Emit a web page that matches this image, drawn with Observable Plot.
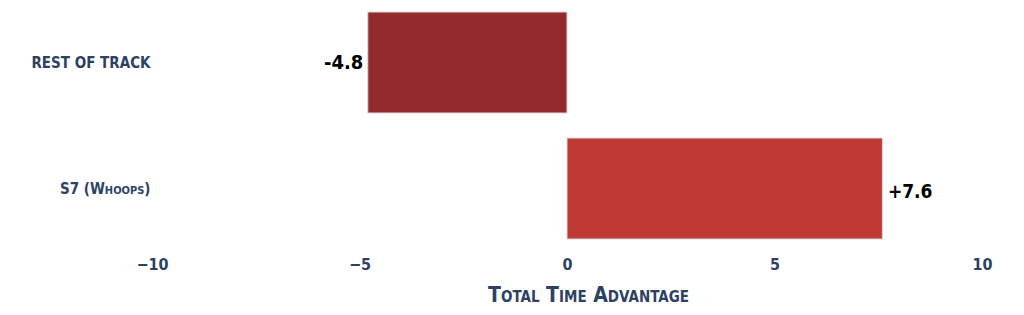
<!DOCTYPE html>
<html>
<head>
<meta charset="utf-8">
<script src="https://cdn.jsdelivr.net/npm/d3@7"></script>
<script src="https://cdn.jsdelivr.net/npm/@observablehq/plot@0.6"></script>
<style>
  html, body { margin: 0; padding: 0; background: #fff; }
  svg { display: block; }
  svg text { font-stretch: condensed; }
</style>
</head>
<body>
<div id="chart"></div>
<script>
const categories = ["REST OF TRACK", "S7 (Whoops)"];
const values = [-4.8, 7.6];
const colors = ["#932a2b", "#bf3935"];
const xTicks = [-10, -5, 0, 5, 10];
const axisLabel = "Total Time Advantage";

const data = categories.map((c, i) => ({category: c, value: values[i], color: colors[i]}));
const font = "'DejaVu Sans Condensed', 'DejaVu Sans', sans-serif";
const navy = "#2d4262";
const fmt = d => (d.value > 0 ? "+" : "-") + Math.abs(d.value).toFixed(1);

const chart = Plot.plot({
  width: 1024,
  height: 315,
  marginLeft: 152,
  marginRight: 42,
  marginTop: 12,
  marginBottom: 76,
  style: {fontFamily: font, background: "#fff"},
  x: {domain: [-10, 10]},
  y: {domain: categories, paddingInner: 0.2, paddingOuter: 0},
  marks: [
    Plot.barX(data, {x: "value", y: "category", fill: "color", stroke: "#d9d9de", strokeWidth: 1}),
    Plot.text(data.filter(d => d.value < 0), {
      x: "value", y: "category", text: fmt, textAnchor: "end", dx: -5,
      fontSize: 20, fontWeight: "bold", fill: "#000", fontFamily: font
    }),
    Plot.text(data.filter(d => d.value > 0), {
      x: "value", y: "category", text: fmt, textAnchor: "start", dx: 5, dy: 3,
      fontSize: 19, fontWeight: "bold", fill: "#000", fontFamily: font
    }),
    Plot.axisX({ticks: xTicks, tickSize: 0, tickPadding: 19, fontSize: 16, fontWeight: "bold", fill: navy, label: null, fontFamily: font}),
    Plot.axisY({tickSize: 0, tickPadding: 2, fontSize: 15, fontWeight: "bold", fill: navy, label: null, fontVariant: "small-caps", fontFamily: font}),
    Plot.text([axisLabel], {frameAnchor: "bottom", dy: 62, dx: 21, fontSize: 21, fontWeight: "bold", fill: navy, fontVariant: "small-caps", fontFamily: font})
  ]
});

document.getElementById("chart").appendChild(chart);
</script>
</body>
</html>
